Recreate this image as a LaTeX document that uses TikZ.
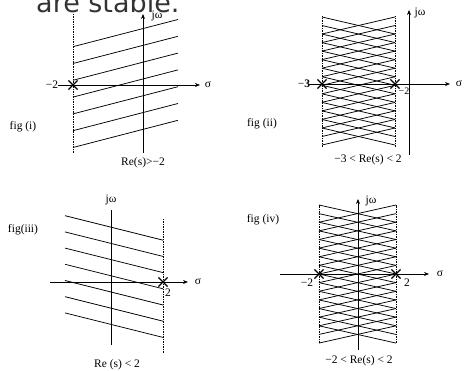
\documentclass[tikz,border=0pt]{standalone}
\usepackage{fontspec}
\setmainfont{Liberation Serif}
\newfontfamily\headfont{DejaVu Sans}
\usetikzlibrary{arrows.meta,shapes.misc}

\tikzset{
  axisline/.style={line width=0.8pt,-{Stealth[length=5pt,width=4pt]}},
  hatchline/.style={line width=0.75pt},
  boundline/.style={dash pattern=on 1.5pt off 1pt,line width=0.5pt},
  pole/.style={draw,cross out,minimum size=8pt,inner sep=0pt,line width=1.1pt},
  lbl/.style={font=\fontsize{11.5}{13}\selectfont,inner sep=1pt},
}

\begin{document}
\begin{tikzpicture}[x=1pt,y=1pt]
  \useasboundingbox (0,0) rectangle (464,371);
  % heading cut by the top edge
  \node[anchor=base west,inner sep=0pt,font=\headfont\fontsize{27}{30}\selectfont,text=black!80] (head) at (36,358.5) {are stable.};
  % fig (i): Re(s) > -2
  \begin{scope}[shift={(143,286)}]
    \foreach \k in {0,...,6}
      \draw[hatchline] (-70,38.3-16.8*\k) -- (35,65.5-16.8*\k);
    \draw[boundline] (-70,-68) -- (-70,72);
    \draw[axisline] (-85,0) -- (57,0);
    \draw[axisline] (0,-68) -- (0,71);
    \node[pole] (pa) at (-70,0) {};
    \node[lbl] (ma) at (-91,0) {−2};
    \node[lbl] (sa) at (65,0) {σ};
    \node[lbl] (ja) at (14,69) {jω};
    \node[lbl] (ra) at (0,-78) {Re(s)>−2};
    \node[lbl] (fa) at (-120,-42) {fig (i)};
  \end{scope}
  % fig (ii): -3 < Re(s) < 2
  \begin{scope}[shift={(409,287)}]
    \foreach \k in {0,...,13} {
      \draw[hatchline] (-87,67-8.54*\k) -- (-14,50-8.54*\k);
      \draw[hatchline] (-87,50-8.54*\k) -- (-14,67-8.54*\k);
    }
    \draw[boundline] (-87,-63) -- (-87,68);
    \draw[boundline] (-14,-63) -- (-14,68);
    \draw[axisline] (-100,0) -- (41,0);
    \draw[axisline] (0,-71) -- (0,74);
    \node[pole] (pb1) at (-87,0) {};
    \node[pole] (pb2) at (-14,0) {};
    \node[lbl] (mb1) at (-105,0) {−\textbf{3}};
    \node[lbl,font=\fontsize{10}{12}\selectfont] (mb2) at (-5,-7) {−2};
    \node[lbl] (sb) at (50,0) {σ};
    \node[lbl] (jb) at (11,71) {jω};
    \node[lbl] (rb) at (-41,-76) {−3 < Re(s) < 2};
    \node[lbl] (fb) at (-147,-40) {fig (ii)};
  \end{scope}
  % fig (iii): Re(s) < 2
  \begin{scope}[shift={(111,89)}]
    \foreach \k in {0,...,6}
      \draw[hatchline] (-46,66.3-16.2*\k) -- (52,41.8-16.2*\k);
    \draw[boundline] (52,-71) -- (52,64);
    \draw[axisline] (-61,0) -- (77,0);
    \draw[line width=0.8pt] (0,-63) -- (0,72);
    \node[pole] (pc) at (52,0) {};
    \node[lbl] (mc) at (57,-11) {2};
    \node[lbl] (sc) at (87,0) {σ};
    \node[lbl] (jc) at (0,82) {jω};
    \node[lbl] (rc) at (6,-83) {Re (s) < 2};
    \node[lbl] (fc) at (-88,52) {fig(iii)};
  \end{scope}
  % fig (iv): -2 < Re(s) < 2
  \begin{scope}[shift={(358,97)}]
    \foreach \k in {0,...,14} {
      \draw[hatchline] (-39,69-8.63*\k) -- (38,51.74-8.63*\k);
      \draw[hatchline] (-39,51.74-8.63*\k) -- (38,69-8.63*\k);
    }
    \draw[boundline] (-39,-69) -- (-39,69);
    \draw[boundline] (38,-69) -- (38,69);
    \draw[axisline] (-78,0) -- (71,0);
    \draw[axisline] (0,-76) -- (0,75);
    \node[pole] (pd1) at (-39,0) {};
    \node[pole] (pd2) at (38,0) {};
    \node[lbl] (md1) at (-51,-9) {−2};
    \node[lbl] (md2) at (49,-9) {2};
    \node[lbl] (sd) at (82,0) {σ};
    \node[lbl] (jd) at (13,73) {jω};
    \node[lbl] (rd) at (1,-87) {−2 < Re(s) < 2};
    \node[lbl] (fd) at (-95,54) {fig (iv)};
  \end{scope}
\end{tikzpicture}
\end{document}
